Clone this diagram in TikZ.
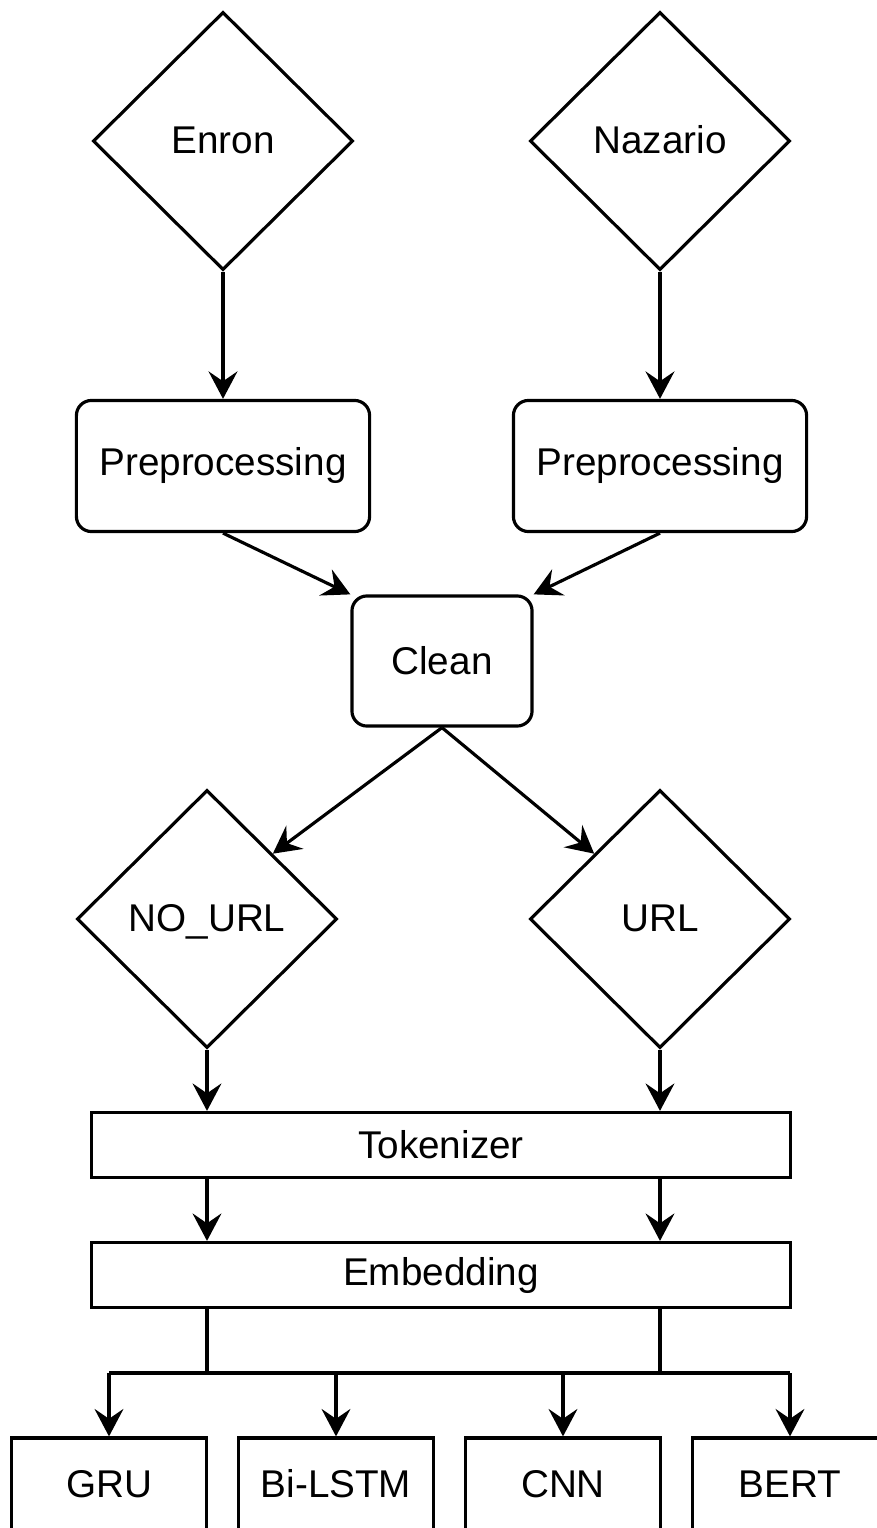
\documentclass[tikz,border=0pt]{standalone}
\usepackage{fontspec}
\setmainfont{Liberation Sans}
\usetikzlibrary{shapes.geometric,arrows.meta}
\begin{document}
\begin{tikzpicture}[x=0.01cm,y=-0.01cm,line width=0.9pt,font=\fontsize{11}{13}\selectfont]
						\path[use as bounding box,clip] (0,0) rectangle (877,1528);
						\begin{scope}[every node/.style={diamond,draw,aspect=1,inner sep=0pt,text height=0.72em,text depth=0pt,minimum width=2.6cm,minimum height=2.58cm}]
							\node (enron) at (223,141) {Enron};
							\node (nazario) at (660,141) {Nazario};
							\node (nourl) at (207,919) {NO\_URL};
							\node (url) at (660,919) {URL};
						\end{scope}
						
						\begin{scope}[every node/.style={rectangle,draw,rounded corners=0.15cm,minimum width=2.93cm,minimum height=1.31cm}]
							\node (prepL) at (223,466) {Preprocessing};
							\node (prepR) at (660,466) {Preprocessing};
							\node [minimum width=1.8cm,minimum height=1.3cm] (clean) at (442,661) {Clean};
						\end{scope}
						
						\begin{scope}[every node/.style={rectangle,draw,minimum width=6.98cm,minimum height=0.65cm}]
							\node (tok) at (441,1145) {Tokenizer};
							\node (emb) at (441,1275) {Embedding};
						\end{scope}
						
						\begin{scope}[every node/.style={rectangle,draw,minimum width=1.95cm,minimum height=0.92cm}]
							\node (gru) at (109,1484) {GRU};
							\node (bilstm) at (336,1484) {Bi-LSTM};
							\node (cnn) at (563,1484) {CNN};
							\node (bert) at (790,1484) {BERT};
						\end{scope}
						
						\coordinate (busA) at (109,1373);
						\coordinate (busB) at (790,1373);
						\draw (emb.south -| nourl) |- (busA) -- (busB);
						\draw (emb.south -| url) -- (url |- busA);
						
						\begin{scope}[>={Stealth[length=7.8pt,width=8.2pt,inset=2.8pt]},every edge/.style={draw=black,line width=0.9pt}]
							\path [->] (enron) edge (prepL);
							\path [->] (nazario) edge (prepR);
							\path [->] (prepL.south) edge (clean.north west);
							\path [->] (prepR.south) edge (clean.north east);
							\path [->] (clean.south) edge (nourl.north east);
							\path [->] (clean.south) edge (url.north west);
							\path [->] (nourl) edge (nourl |- tok.north);
							\path [->] (url) edge (url |- tok.north);
							\path [->] (tok.south -| nourl) edge (emb.north -| nourl);
							\path [->] (tok.south -| url) edge (emb.north -| url);
							\path [->] (busA) edge (gru);
							\path [->] (bilstm |- busA) edge (bilstm);
							\path [->] (cnn |- busA) edge (cnn);
							\path [->] (busB) edge (bert);
						\end{scope}
					\end{tikzpicture}
\end{document}
